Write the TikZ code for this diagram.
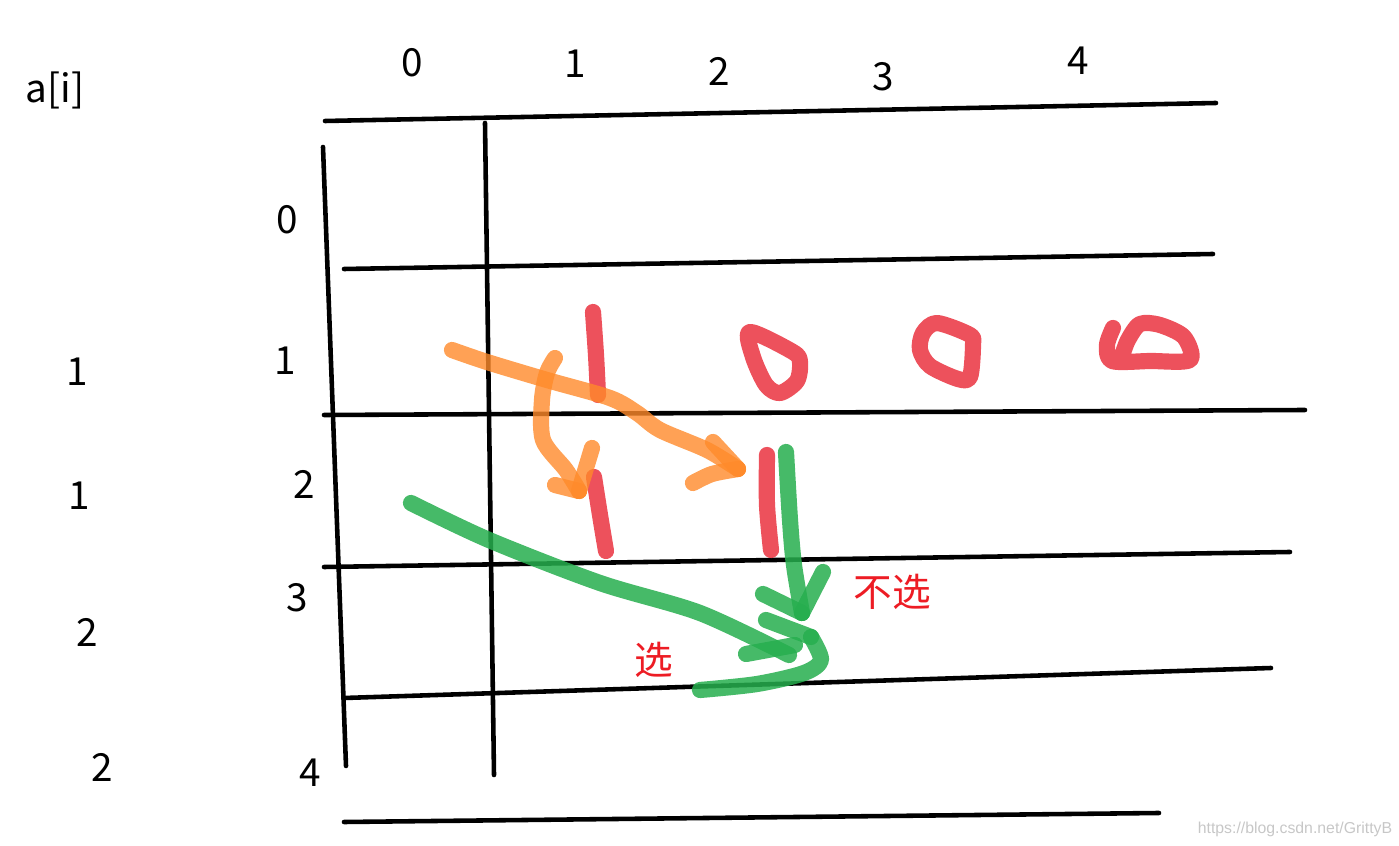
\documentclass[tikz,border=0pt]{standalone}
\usepackage{fontspec}
\setmainfont{Noto Sans CJK SC}
\newfontfamily\urlfont{Liberation Sans}
\usetikzlibrary{positioning}
\definecolor{markred}{HTML}{EA3340}
\definecolor{markorange}{HTML}{FF8A2A}
\definecolor{markgreen}{HTML}{26AE4E}
\definecolor{textred}{HTML}{ED1C24}

\begin{document}
\begin{tikzpicture}[
    x=0.01cm, y=-0.01cm,
    gridline/.style={draw, line width=1.3pt, line cap=round},
    numlabel/.style={font=\fontsize{11}{13}\selectfont, inner sep=0pt},
    choice/.style={font=\fontsize{11}{13}\selectfont, text=textred, inner sep=0pt},
    redmark/.style={draw=markred, line width=4.6pt, line cap=round, line join=round, opacity=0.85},
    orangemark/.style={draw=markorange, line width=4.6pt, line cap=round, line join=round, opacity=0.8},
    greenmark/.style={draw=markgreen, line width=4.6pt, line cap=round, line join=round, opacity=0.85}
]
\useasboundingbox (0,0) rectangle (1399,846);

% table lines
\draw[gridline] (325,121) -- (1216,103);
\draw[gridline] (344,269) -- (1213,254);
\draw[gridline] (324,415) -- (1305,410);
\draw[gridline] (324,567) -- (1290,552);
\draw[gridline] (344,698) -- (1271,668);
\draw[gridline] (344,822) -- (1159,813);
\draw[gridline] (323,147) -- (346,766);
\draw[gridline] (485,123) -- (494,775);

% headers
\node[numlabel] (ai) at (55,90) {a[i]};
\node[numlabel] (col0) at (412,63) {0};
\node[numlabel] (col1) at (575,64) {1};
\node[numlabel] (col2) at (719,71) {2};
\node[numlabel] (col3) at (883,77) {3};
\node[numlabel] (col4) at (1078,61) {4};

% row numbers
\node[numlabel] (row0) at (287,220) {0};
\node[numlabel] (row1) at (285,361) {1};
\node[numlabel] (row2) at (304,484) {2};
\node[numlabel] (row3) at (297,598) {3};
\node[numlabel] (row4) at (310,773) {4};

% values of a[i]
\node[numlabel] (val1) at (77,372) {1};
\node[numlabel] (val2) at (79,496) {1};
\node[numlabel] (val3) at (87,632) {2};
\node[numlabel] (val4) at (102,767) {2};

% red marks
\draw[redmark] plot[smooth] coordinates {(593,312) (596,355) (598,395)};
\draw[redmark] plot[smooth] coordinates {(594,477) (600,515) (606,551)};
\draw[redmark] plot[smooth] coordinates {(767,455) (767,505) (771,550)};
\draw[redmark] plot[smooth cycle] coordinates {(750,332) (793,352) (800,362) (797,381) (780,393) (766,385) (753,357)};
\draw[redmark] plot[smooth cycle] coordinates {(937,323) (970,335) (973,345) (970,377) (958,379) (930,366) (920,350) (923,333)};
\draw[redmark] plot[smooth] coordinates {(1113,328) (1107,345) (1112,361) (1150,361) (1190,360) (1184,337) (1160,325) (1140,324) (1128,340) (1122,356)};

% orange arrows
\coordinate (olong) at (452,350);
\coordinate (olongtip) at (738,469);
\coordinate (oshort) at (555,358);
\coordinate (oshorttip) at (579,491);
\draw[orangemark] plot[smooth] coordinates {(olong) (487,362) (547,380) (610,398) (637,413) (660,430) (707,450) (olongtip)};
\draw[orangemark] (713,442) -- (olongtip);
\draw[orangemark] plot[smooth] coordinates {(693,483) (712,474) (olongtip)};
\draw[orangemark] plot[smooth] coordinates {(oshort) (547,373) (542,400) (543,440) (566,470) (oshorttip)};
\draw[orangemark] (592,448) -- (oshorttip);
\draw[orangemark] (555,485) -- (oshorttip);

% green arrows
\coordinate (gdown) at (786,452);
\coordinate (gdowntip) at (802,613);
\coordinate (gpick) at (411,503);
\coordinate (gpicktip) at (789,655);
\draw[greenmark] plot[smooth] coordinates {(gdown) (790,520) (794,565) (gdowntip)};
\draw[greenmark] (823,572) -- (gdowntip);
\draw[greenmark] (763,594) -- (gdowntip);
\draw[greenmark] plot[smooth] coordinates {(gpick) (489,540) (600,583) (700,613) (gpicktip)};
\draw[greenmark] (766,620) -- (811,637);
\draw[greenmark] (746,654) -- (795,645);
\draw[greenmark] plot[smooth] coordinates {(811,637) (821,660) (804,673) (757,684) (700,690)};

% choices
\node[choice] (skip) at (892,592) {不选};
\node[choice] (pick) at (654,660) {选};

% watermark
\node[font=\urlfont\fontsize{4.5}{5}\selectfont, text=black!22, inner sep=0pt] (mark) at (1295,829) {https://blog.csdn.net/GrittyB};

\end{tikzpicture}
\end{document}
